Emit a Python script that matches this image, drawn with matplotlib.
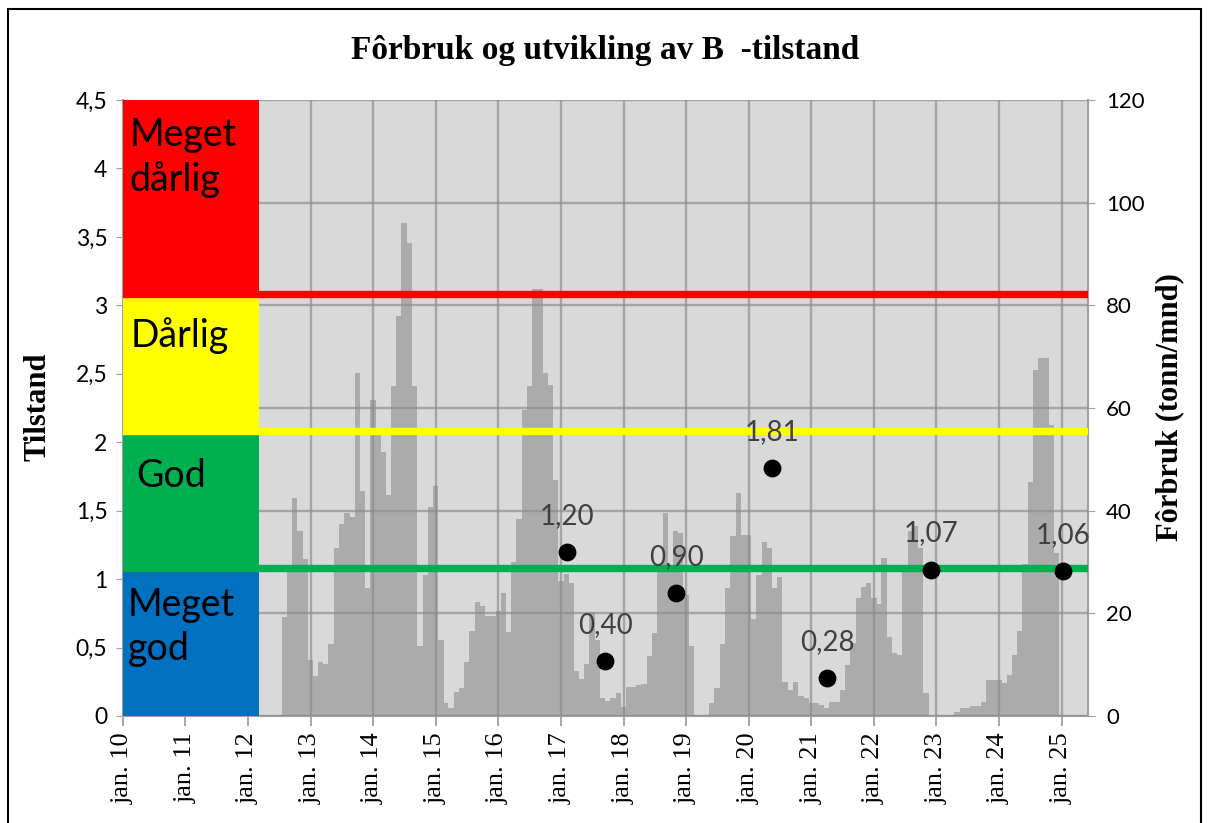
import matplotlib
matplotlib.use('Agg')
import matplotlib.pyplot as plt
import matplotlib.dates as mdates
from matplotlib.patches import Rectangle
import pandas as pd

# Monthly feed use (tonn/mnd), aug 2012 - des 2024
forbruk = [
    19.2, 29.0, 42.5, 36.0, 30.5,                                          # 2012 aug-des
    11.0, 7.7, 10.6, 10.1, 14.0, 32.7, 37.4, 39.5, 38.7, 66.8, 43.8, 24.9,  # 2013
    61.6, 55.0, 51.5, 43.0, 64.2, 78.0, 96.1, 92.2, 64.2, 13.7, 27.5, 40.8,  # 2014
    44.8, 14.9, 2.5, 1.6, 4.6, 5.5, 10.6, 16.6, 22.3, 21.4, 19.4, 19.4,     # 2015
    20.5, 23.9, 16.3, 30.0, 38.3, 59.6, 64.2, 83.1, 83.1, 66.8, 64.5, 46.0,  # 2016
    26.3, 27.7, 25.9, 8.8, 7.2, 10.1, 20.2, 14.9, 3.5, 3.0, 3.5, 4.5,       # 2017
    1.8, 5.6, 5.6, 6.0, 6.2, 11.7, 16.1, 29.7, 39.6, 29.0, 36.0, 35.6,      # 2018
    23.6, 13.6, 0.0, 0.0, 0.0, 2.5, 5.4, 14.0, 24.9, 35.0, 43.4, 35.3,      # 2019
    35.3, 18.9, 27.5, 33.8, 32.7, 24.9, 27.0, 6.7, 5.1, 6.7, 3.8, 3.6,      # 2020
    2.5, 2.5, 2.1, 1.5, 2.8, 2.8, 5.1, 9.9, 14.2, 22.9, 25.2, 26.0,         # 2021
    23.0, 21.8, 30.8, 15.3, 12.2, 11.9, 28.4, 36.0, 37.0, 32.7, 4.5, 0.0,   # 2022
    0.0, 0.0, 0.0, 0.0, 0.7, 1.5, 1.6, 1.9, 1.9, 2.8, 7.1, 7.1,             # 2023
    7.1, 6.4, 8.0, 11.9, 16.6, 29.7, 45.5, 67.5, 69.7, 69.7, 56.7, 31.8,    # 2024
]
forbruk_start = '2012-08-01'

# B-tilstand measurements
tilstand_dato = ['2017-02-05', '2017-09-15', '2018-11-05', '2020-05-15',
                 '2021-04-05', '2022-12-01', '2025-01-08']
tilstand = [1.20, 0.40, 0.90, 1.81, 0.28, 1.07, 1.06]

# class limits (tilstand)
klasse_navn = ['Meget\ngod', 'God', 'Dårlig', 'Meget\ndårlig']
klasse_grenser = [0, 1.08, 2.08, 3.08, 4.5]
klasse_farger = ['#0070C0', '#00B050', '#FFFF00', '#FF0000']
klasse_slutt = '2012-03-06'

akse_start = '2010-01-01'
akse_slutt = '2025-06-03'

W, H = 1210, 823
fig = plt.figure(figsize=(W / 100, H / 100), dpi=100)
ax_bar = fig.add_axes([122.7 / W, (H - 716) / H, (1088 - 122.7) / W, 616 / H])
ax_bar.set_facecolor('#D9D9D9')

months = pd.date_range(forbruk_start, periods=len(forbruk), freq='MS')
xm = mdates.date2num(months.to_pydatetime())
ax_bar.bar(xm, forbruk, width=31, color='#ABABAB', align='center', linewidth=0, zorder=1)
ax_bar.set_ylim(0, 120)
x0 = mdates.date2num(pd.Timestamp(akse_start).to_pydatetime())
x1 = mdates.date2num(pd.Timestamp(akse_slutt).to_pydatetime())
ax_bar.set_xlim(x0, x1)

years = pd.date_range(akse_start, '2025-01-01', freq='YS')
ax_bar.set_xticks(mdates.date2num(years.to_pydatetime()))
ax_bar.set_xticklabels(['jan. %02d' % (y % 100) for y in years.year], rotation=90,
                       fontfamily='Liberation Serif', fontsize=19)
ax_bar.tick_params(axis='x', direction='out', length=7, width=1.3, color='#A0A0A0', pad=5)
ax_bar.grid(True, color='#8A8A8A', alpha=0.65, lw=1.7)
ax_bar.set_axisbelow(False)

ax_state = ax_bar.twinx()
ax_state.set_ylim(0, 4.5)
ax_state.set_xlim(x0, x1)

# class bands
xb = mdates.date2num(pd.Timestamp(klasse_slutt).to_pydatetime())
for i, farge in enumerate(klasse_farger):
    lo, hi = klasse_grenser[i], klasse_grenser[i + 1]
    ax_state.bar(x0, hi - lo, bottom=lo, width=xb - x0, align='edge',
                 color=farge, linewidth=0, zorder=2)
for grense, farge in zip(klasse_grenser[1:4], ['#00B050', '#FFFF00', '#FF0000']):
    ax_state.axhline(grense, color=farge, lw=5.3, zorder=3)

ax_state.text(x0 + 40, 4.08, klasse_navn[3], fontsize=27, fontfamily='Lato',
              va='center', ha='left', linespacing=1.3, zorder=4)
ax_state.text(x0 + 45, 2.78, klasse_navn[2], fontsize=27, fontfamily='Lato',
              va='center', ha='left', zorder=4)
ax_state.text(x0 + 80, 1.75, klasse_navn[1], fontsize=27, fontfamily='Lato',
              va='center', ha='left', zorder=4)
ax_state.text(x0 + 30, 0.65, klasse_navn[0], fontsize=27, fontfamily='Lato',
              va='center', ha='left', linespacing=1.3, zorder=4)

# measurements
xt = mdates.date2num(pd.to_datetime(tilstand_dato).to_pydatetime())
ax_state.scatter(xt, tilstand, s=140, color='black', zorder=6, clip_on=False)
for x, v in zip(xt, tilstand):
    ax_state.annotate(f'{v:.2f}'.replace('.', ','), (x, v), xytext=(0, 26),
                      textcoords='offset points', ha='center', va='center',
                      fontsize=20, fontfamily='Lato', color='#404040', zorder=7,
                      annotation_clip=False)

# axes: tilstand on the left, forbruk on the right
ax_state.yaxis.tick_left()
ax_bar.yaxis.tick_right()
ax_state.set_yticks([i * 0.5 for i in range(10)])
ax_state.set_yticklabels([('%g' % (i * 0.5)).replace('.', ',') for i in range(10)],
                         fontfamily='Lato', fontsize=16.5)
ax_bar.set_yticks(range(0, 121, 20))
ax_bar.set_yticklabels([str(v) for v in range(0, 121, 20)], fontfamily='Lato', fontsize=16)
ax_state.tick_params(axis='y', direction='out', length=5, color='#A0A0A0', pad=6)
ax_bar.tick_params(axis='y', direction='out', length=5, color='#A0A0A0', pad=8)

for sp in ax_state.spines.values():
    sp.set_visible(False)
ax_bar.spines['top'].set_visible(False)
for s in ['bottom', 'right', 'left']:
    ax_bar.spines[s].set_color('#A0A0A0')
    ax_bar.spines[s].set_linewidth(1.5)

fig.text(0.5, 1 - 50 / H, 'Fôrbruk og utvikling av B  -tilstand', ha='center', va='center',
         fontfamily='Liberation Serif', fontweight='bold', fontsize=24)
fig.text(38 / W, 1 - 407 / H, 'Tilstand', rotation=90, ha='center', va='center',
         fontfamily='Liberation Serif', fontweight='bold', fontsize=22)
fig.text(1170 / W, 1 - 407 / H, 'Fôrbruk (tonn/mnd)', rotation=90, ha='center', va='center',
         fontfamily='Liberation Serif', fontweight='bold', fontsize=22)

fig.patches.append(Rectangle((8 / W, -0.05), (1201 - 8) / W, 1.05 - 9 / H,
                             transform=fig.transFigure, fill=False,
                             edgecolor='black', lw=1.5))

fig.savefig('out.png', dpi=100)
